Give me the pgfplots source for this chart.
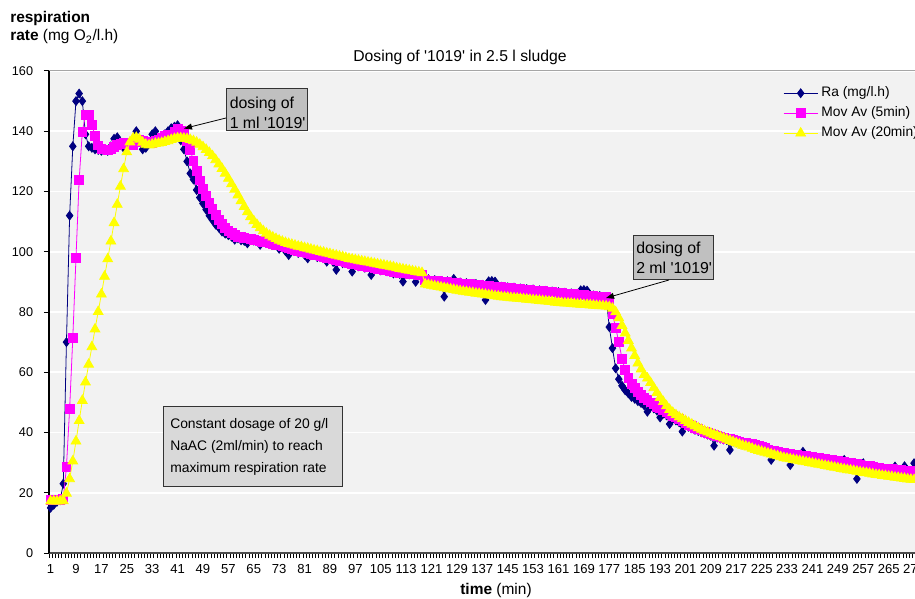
\documentclass[border=0pt]{standalone}
\usepackage{fontspec}
\setmainfont{Liberation Sans}[Ligatures=TeXOff]
\usepackage{pgfplots}
\pgfplotsset{compat=1.18}
\usepackage{pgfplotstable}
\usetikzlibrary{arrows.meta}

\definecolor{ranavy}{RGB}{0,0,128}
\definecolor{mavmag}{RGB}{255,0,255}
\definecolor{mavyel}{RGB}{255,255,0}
\definecolor{plotbg}{RGB}{242,242,242}
\definecolor{boxgray}{RGB}{192,192,192}
\definecolor{boxlight}{RGB}{217,217,217}

% pixel position (from top left of the 915x599 picture)
\newcommand{\pp}[2]{({#1*0.75pt},{-#2*0.75pt})}

% i = time (min), ra = respiration rate, ma5 / ma20 = moving averages
\pgfplotstableread{
i ra ma5 ma20
1 15 17.5 17.2
2 16 17.5 17.2
3 17 17.5 17.2
4 17.5 17.5 17.2
5 23 17.9 17.3
6 70 28.7 19.8
7 112 47.9 24.6
8 135 71.5 30.5
9 150 98.0 37.1
10 152.5 123.9 43.9
11 150 139.9 50.6
12 139 145.3 56.7
13 135 145.3 62.6
14 134.5 142.2 68.4
15 134 138.5 74.3
16 133.8 135.3 80.1
17 133.5 134.2 85.9
18 134 134.0 91.8
19 133.5 133.8 97.6
20 135 134.0 103.5
21 137.5 134.7 109.6
22 138 135.6 115.7
23 135.5 135.9 121.7
24 134.5 136.1 127.5
25 135 136.1 133.1
26 136 135.8 136.4
27 137 135.6 137.7
28 140 136.5 137.9
29 137 137.0 137.3
30 134 136.8 136.3
31 134.5 136.5 135.6
32 136 136.3 135.4
33 139 136.1 135.6
34 140 136.7 135.9
35 137 137.3 136.0
36 137.5 137.9 136.2
37 139 138.5 136.5
38 140 138.7 136.8
39 141 138.9 137.2
40 141.5 139.8 137.5
41 142 140.7 137.7
42 137 140.3 137.7
43 134 139.1 137.6
44 130 136.9 137.5
45 126 133.8 137.2
46 124 130.2 136.8
47 120.5 126.9 136.3
48 118 123.7 135.6
49 116 120.9 134.8
50 114 118.5 133.9
51 112 116.1 132.9
52 110.5 114.1 131.8
53 109 112.3 130.5
54 108 110.7 129.1
55 106.7 109.2 127.6
56 106 108.0 126.0
57 105.5 107.0 124.3
58 105 106.2 122.5
59 104 105.5 120.7
60 104.5 105.0 118.8
61 103.8 104.8 116.9
62 103.6 104.6 115.0
63 102.8 104.4 113.2
64 104.0 104.2 111.6
65 103.7 104.0 110.2
66 103.9 103.8 109.0
67 102.3 103.6 107.9
68 103.4 103.4 106.9
69 103.3 103.2 106.1
70 102.9 103.0 105.4
71 102.4 102.7 104.8
72 102.7 102.4 104.3
73 101.0 102.1 103.8
74 101.6 101.8 103.4
75 100.2 101.5 103.0
76 98.9 101.2 102.7
77 100.9 100.9 102.4
78 100.4 100.6 102.1
79 99.6 100.3 101.8
80 99.9 100.0 101.6
81 99.0 99.8 101.3
82 97.8 99.5 101.1
83 99.3 99.3 100.8
84 99.0 99.0 100.5
85 98.2 98.8 100.3
86 98.4 98.5 100.0
87 98.5 98.3 99.8
88 96.7 98.0 99.5
89 97.8 97.8 99.3
90 96.6 97.5 99.0
91 94.0 97.3 98.8
92 97.1 97.0 98.5
93 96.2 96.8 98.3
94 96.6 96.5 98.0
95 95.9 96.3 97.7
96 93.4 96.0 97.5
97 95.7 95.8 97.3
98 95.2 95.6 97.1
99 95.6 95.4 96.9
100 94.7 95.2 96.7
101 95.0 95.0 96.5
102 92.3 94.8 96.3
103 94.4 94.6 96.1
104 94.6 94.4 95.9
105 93.8 94.2 95.7
106 94.0 94.0 95.5
107 93.5 93.8 95.3
108 93.8 93.6 95.1
109 92.8 93.4 94.9
110 93.3 93.2 94.6
111 92.6 93.1 94.4
112 90.1 92.9 94.2
113 92.9 92.8 94.0
114 92.5 92.7 93.8
115 92.8 92.6 93.6
116 90.0 92.5 93.4
117 92.2 92.4 93.2
118 91.5 92.3 93.0
119 90.3 90.6 89.2
120 90.9 90.5 89.0
121 89.8 90.4 88.8
122 90.6 90.3 88.6
123 90.0 90.2 88.4
124 89.7 90.1 88.2
125 85.1 90.0 88.0
126 90.2 89.9 87.8
127 89.5 89.8 87.6
128 91.0 89.7 87.4
129 89.2 89.6 87.2
130 89.8 89.5 87.0
131 88.9 89.4 86.8
132 89.6 89.3 86.7
133 89.0 89.2 86.5
134 88.8 89.1 86.4
135 89.3 89.0 86.2
136 88.6 88.9 86.1
137 89.0 88.8 85.9
138 84.0 88.7 85.8
139 90.2 88.6 85.6
140 90.3 88.5 85.5
141 90.1 88.4 85.3
142 88.0 88.3 85.2
143 88.4 88.2 85.0
144 87.8 88.1 84.9
145 88.2 88.0 84.8
146 87.6 87.9 84.7
147 88.1 87.8 84.6
148 87.4 87.7 84.5
149 87.8 87.6 84.4
150 87.2 87.5 84.3
151 87.6 87.4 84.2
152 87.0 87.3 84.1
153 87.5 87.2 84.0
154 86.9 87.1 83.9
155 87.2 87.0 83.8
156 86.7 86.9 83.7
157 87.0 86.8 83.6
158 86.5 86.7 83.5
159 86.8 86.6 83.4
160 86.3 86.5 83.2
161 86.6 86.4 83.1
162 86.1 86.3 83.0
163 86.4 86.2 82.9
164 85.9 86.1 82.9
165 86.2 86.0 82.8
166 85.7 85.9 82.7
167 86.0 85.8 82.6
168 87.2 85.7 82.5
169 87.3 85.6 82.4
170 87.1 85.5 82.4
171 85.3 85.4 82.3
172 85.5 85.3 82.2
173 85.0 85.2 82.1
174 85.3 85.1 82.0
175 84.8 85.0 82.0
176 84.7 85.0 81.9
177 75 82.9 81.7
178 68 79.5 81.2
179 61.3 74.8 80.0
180 57.7 70.0 78.0
181 55.5 64.5 75.5
182 54.0 60.8 73.0
183 53.0 58.2 70.5
184 51.8 56.2 68.0
185 51.2 54.7 65.5
186 50.4 53.5 63.0
187 49.8 52.5 61.0
188 49.0 51.6 59.2
189 46.9 50.8 58.0
190 48.6 50.0 56.5
191 48.0 49.3 54.8
192 47.3 48.6 53.2
193 45.0 48.0 51.6
194 46.3 47.4 50.2
195 45.7 46.8 48.8
196 42.8 46.2 47.6
197 44.6 45.6 46.6
198 44.0 45.0 45.8
199 43.4 44.4 45.1
200 40.3 43.8 44.5
201 42.4 43.2 43.9
202 41.9 42.6 43.3
203 41.4 42.1 42.7
204 40.9 41.6 42.1
205 40.5 41.1 41.5
206 40.1 40.7 41.0
207 39.7 40.3 40.5
208 39.3 39.9 40.1
209 38.9 39.5 39.7
210 35.6 39.1 39.3
211 38.3 38.8 38.9
212 38.0 38.5 38.5
213 37.7 38.2 38.1
214 37.5 38.0 37.7
215 34.2 37.8 37.3
216 37.0 37.6 36.9
217 36.7 37.3 36.5
218 36.4 37.0 36.1
219 36.1 36.7 35.7
220 35.9 36.5 35.4
221 35.7 36.3 35.1
222 35.4 36.1 34.7
223 35.0 35.9 34.3
224 34.6 35.6 34.0
225 34.2 35.2 33.7
226 33.8 34.8 33.4
227 33.5 34.4 33.1
228 30.9 34.0 32.8
229 33.2 33.8 32.5
230 33.0 33.6 32.2
231 32.8 33.4 31.9
232 32.6 33.2 31.6
233 32.4 33.0 31.4
234 29.2 32.8 31.2
235 32.3 32.6 31.0
236 32.1 32.5 30.8
237 32.0 32.4 30.6
238 33.6 32.3 30.4
239 31.7 32.1 30.2
240 31.5 31.9 30.0
241 31.4 31.8 29.8
242 31.2 31.6 29.6
243 31.1 31.5 29.4
244 30.9 31.3 29.2
245 30.8 31.2 29.0
246 30.6 31.0 28.8
247 30.5 30.9 28.6
248 30.3 30.7 28.4
249 30.1 30.5 28.2
250 30.0 30.4 28.0
251 30.9 30.2 27.8
252 29.7 30.0 27.6
253 29.5 29.9 27.5
254 29.3 29.7 27.3
255 24.6 29.5 27.1
256 29.0 29.3 26.9
257 29.8 29.1 26.7
258 28.7 29.0 26.6
259 28.5 28.8 26.4
260 28.3 28.6 26.2
261 28.1 28.4 26.0
262 28.0 28.2 25.9
263 27.9 28.1 25.7
264 27.8 28.0 25.6
265 27.7 27.9 25.4
266 27.6 27.8 25.3
267 28.7 27.7 25.1
268 27.4 27.6 25.0
269 27.3 27.5 24.8
270 28.8 27.4 24.7
271 27.2 27.3 24.5
272 27.1 27.2 24.4
273 29.8 27.1 24.3
274 27.0 27.0 24.2
}\resp

\begin{document}
\begin{tikzpicture}
\useasboundingbox \pp{0}{0} rectangle \pp{915}{599};

\begin{axis}[
    at={(36.75pt,-414.75pt)}, anchor=south west,
    scale only axis, width=649.5pt, height=361.5pt,
    xmin=0.5, xmax=273.3, ymin=0, ymax=160,
    clip mode=individual,
    axis x line=bottom, axis y line=left,
    x axis line style={-, draw=gray!60!black, line width=1pt},
    y axis line style={-, draw=black, line width=1pt},
    axis background/.style={fill=plotbg},
    ytick={0,20,...,160},
    ymajorgrids, grid style={white, line width=1.2pt},
    xtick={1,9,...,273},
    minor xtick={0.5,1.5,...,273.5},
    tick align=outside,
    major tick length=3.75pt, minor tick length=3.75pt,
    major x tick style={draw=none},
    minor x tick style={draw=black, line width=0.5pt},
    ytick style={draw=black, line width=0.75pt},
    /pgf/number format/assume math mode=true,
    xticklabel style={font=\fontsize{9.8}{11}\selectfont, inner sep=0pt, yshift=-4.5pt},
    yticklabel style={font=\fontsize{9.5}{11}\selectfont, inner sep=0pt, xshift=-8pt},
    legend style={at={(axis description cs:0.843,0.9745)}, anchor=north west,
        draw=none, fill=none, font=\fontsize{10.35}{12}\selectfont,
        row sep=4.5pt, nodes={inner sep=0pt, text height=8pt, text depth=2.5pt},
        /tikz/every odd column/.append style={column sep=2.5pt}},
    legend cell align=left,
    legend image code/.code={\draw[mark repeat=2,mark phase=2,#1]
        plot coordinates {(0pt,0pt) (12.75pt,0pt) (25.5pt,0pt)};},
]
\addplot[color=ranavy, line width=0.6pt, mark=diamond*, mark size=3.3pt,
    mark options={solid, fill=ranavy, draw=ranavy}] table[x=i, y=ra] {\resp};
\addplot[color=mavmag, line width=0.6pt, mark=square*, mark size=3.3pt,
    mark options={solid, fill=mavmag, draw=mavmag}] table[x=i, y=ma5] {\resp};
\addplot[color=mavyel, line width=0.6pt, mark=triangle*, mark size=4.2pt,
    mark options={solid, fill=mavyel, draw=mavyel}] table[x=i, y=ma20] {\resp};
\legend{Ra (mg/l.h), Mov Av (5min), Mov Av (20min)}
\end{axis}

% top border of the plot area
\draw[gray!70, line width=0.75pt] \pp{49}{71} -- \pp{915}{71};

% titles
\node[inner sep=0pt, font=\fontsize{11.8}{14}\selectfont] at \pp{460}{57}
    {Dosing of '1019' in 2.5 l sludge};
\node[anchor=base west, inner sep=0pt, font=\fontsize{11.6}{14}\selectfont\bfseries]
    at \pp{10}{23} {respiration};
\node[anchor=base west, inner sep=0pt, font=\fontsize{11.6}{14}\selectfont]
    at \pp{10}{41} {\textbf{rate} (mg O\textsubscript{2}/l.h)};
\node[anchor=base, inner sep=0pt, font=\fontsize{11.6}{14}\selectfont]
    at \pp{496}{594} {\textbf{time} (min)};

% annotations
\draw[fill=boxgray, draw=black!80, line width=0.6pt] \pp{226}{88} rectangle \pp{307}{130};
\node[anchor=base west, inner sep=0pt, font=\fontsize{11.9}{14}\selectfont]
    at \pp{229.5}{108.3} {dosing of};
\node[anchor=base west, inner sep=0pt, font=\fontsize{11.9}{14}\selectfont]
    at \pp{229.5}{128.3} {1 ml '1019'};
\draw[black, line width=0.6pt, -{Triangle[length=6pt, width=4.5pt]}]
    \pp{226}{118} -- \pp{184}{128.5};

\draw[fill=boxgray, draw=black!80, line width=0.6pt] \pp{633}{235} rectangle \pp{713}{279};
\node[anchor=base west, inner sep=0pt, font=\fontsize{11.9}{14}\selectfont]
    at \pp{636}{253.5} {dosing of};
\node[anchor=base west, inner sep=0pt, font=\fontsize{11.9}{14}\selectfont]
    at \pp{636}{273.5} {2 ml '1019'};
\draw[black, line width=0.6pt, -{Triangle[length=6pt, width=4.5pt]}]
    \pp{669}{280} -- \pp{606}{298};

\draw[fill=boxlight, draw=black!80, line width=0.6pt] \pp{163}{406} rectangle \pp{342}{486};
\node[anchor=base west, inner sep=0pt, font=\fontsize{10.4}{12}\selectfont]
    at \pp{170}{428.3} {Constant dosage of 20 g/l};
\node[anchor=base west, inner sep=0pt, font=\fontsize{10.4}{12}\selectfont]
    at \pp{170}{450.7} {NaAC (2ml/min) to reach};
\node[anchor=base west, inner sep=0pt, font=\fontsize{10.4}{12}\selectfont]
    at \pp{170}{472.7} {maximum respiration rate};
\end{tikzpicture}
\end{document}
